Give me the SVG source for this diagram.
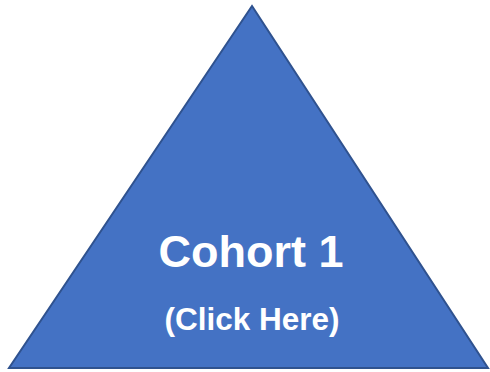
<svg xmlns="http://www.w3.org/2000/svg" width="490" height="372" viewBox="0 0 490 372">
<style>
.tri{fill:#4472C4;stroke:#2F528F;stroke-width:2}
.lbl{fill:#FFFFFF;font-family:"Liberation Sans",Arial,sans-serif;font-weight:bold;text-anchor:middle}
</style>
<rect width="490" height="372" fill="#FFFFFF"/>
<g id="cohort1">
<polygon class="tri" points="252,6 488,368 9,368"/>
<text class="lbl" x="251" y="267" font-size="45">Cohort 1</text>
<text class="lbl" x="252" y="330" font-size="31.5">(Click Here)</text>
</g>
<g id="connectors"/>
</svg>
